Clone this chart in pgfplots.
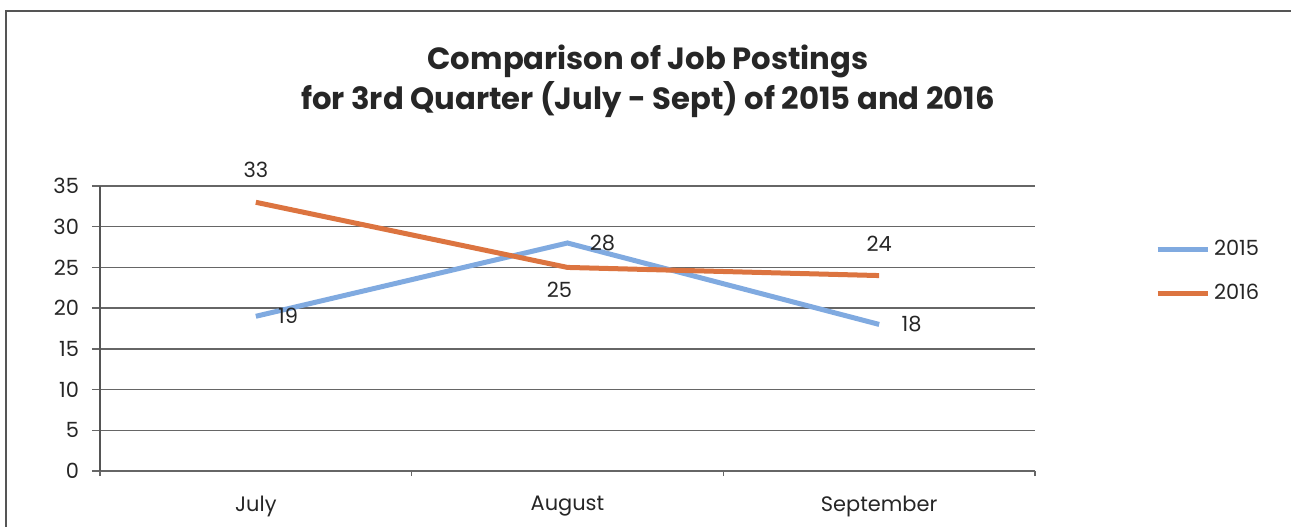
\documentclass[border=0pt]{standalone}
\usepackage{pgfplots}
\pgfplotsset{compat=1.18}
\usepackage{fontspec}
\setmainfont{Poppins}
\definecolor{cA}{HTML}{80AAE0}
\definecolor{cB}{HTML}{DC7440}
\definecolor{gridc}{HTML}{666666}
\definecolor{framec}{HTML}{555555}
\begin{document}
\begin{tikzpicture}
\path[use as bounding box] (0bp,0bp) rectangle (645.5bp,263.5bp);
\draw[framec, line width=1bp] (3bp,0bp) -- (3bp,258bp) -- (645.5bp,258bp);
\node[font=\bfseries\fontsize{15.4}{20}\selectfont, align=center, text=black!85] at (324bp,223bp) {Comparison of Job Postings\\for 3rd Quarter (July - Sept) of 2015 and 2016};
\begin{axis}[
  at={(50bp,28bp)}, anchor=south west,
  scale only axis, width=467.5bp, height=142.5bp,
  xmin=-0.5, xmax=2.5, ymin=0, ymax=35,
  xtick={0,1,2}, xticklabels={July,August,September},
  extra x ticks={-0.5,0.5,1.5,2.5}, extra x tick labels={},
  extra x tick style={xtick style={draw=gridc, line width=0.75bp}, major tick length=2.5bp, grid=none},
  ytick={0,5,...,35},
  axis x line*=bottom, axis y line*=left,
  axis line style={framec, line width=0.8bp, -},
  x axis line style={draw=none},
  ymajorgrids, major grid style={gridc, line width=0.75bp},
  tick align=outside,
  major tick length=4bp,
  xtick style={draw=none},
  ytick style={gridc, line width=0.75bp},
  tick label style={font=\fontsize{10.5}{12}\selectfont, text=black!85},
  yticklabel style={xshift=-3bp},
  xticklabel style={yshift=-5bp},
  /pgf/number format/assume math mode=true,
  clip=false,
  legend style={at={(1.128,0.70)}, anchor=west, draw=none, fill=none,
    font=\fontsize{10.5}{12}\selectfont, text=black!85, row sep=9bp, inner sep=0pt},
  legend cell align=left,
  legend image code/.code={\draw[#1, line width=2.5bp] (0bp,0bp) -- (25bp,0bp);},
  every node near coord/.append style={font=\fontsize{10.5}{12}\selectfont, text=black!85, inner sep=0pt},
]
\addplot[cA, line width=2.5bp, mark=none] coordinates {(0,19) (1,28) (2,18)};
\addlegendentry{2015}
\addplot[cB, line width=2.5bp, mark=none] coordinates {(0,33) (1,25) (2,24)};
\addlegendentry{2016}
% data labels
\addplot[draw=none, mark=none, forget plot, nodes near coords,
  every node near coord/.append style={anchor=west, xshift=11bp}]
  coordinates {(0,19) (1,28) (2,18)};
\addplot[draw=none, mark=none, forget plot, nodes near coords,
  every node near coord/.append style={anchor=south, yshift=12bp}]
  coordinates {(0,33) (2,24)};
\addplot[draw=none, mark=none, forget plot, nodes near coords,
  every node near coord/.append style={anchor=north, yshift=-7bp, xshift=-4bp}]
  coordinates {(1,25)};
\end{axis}
\end{tikzpicture}
\end{document}
